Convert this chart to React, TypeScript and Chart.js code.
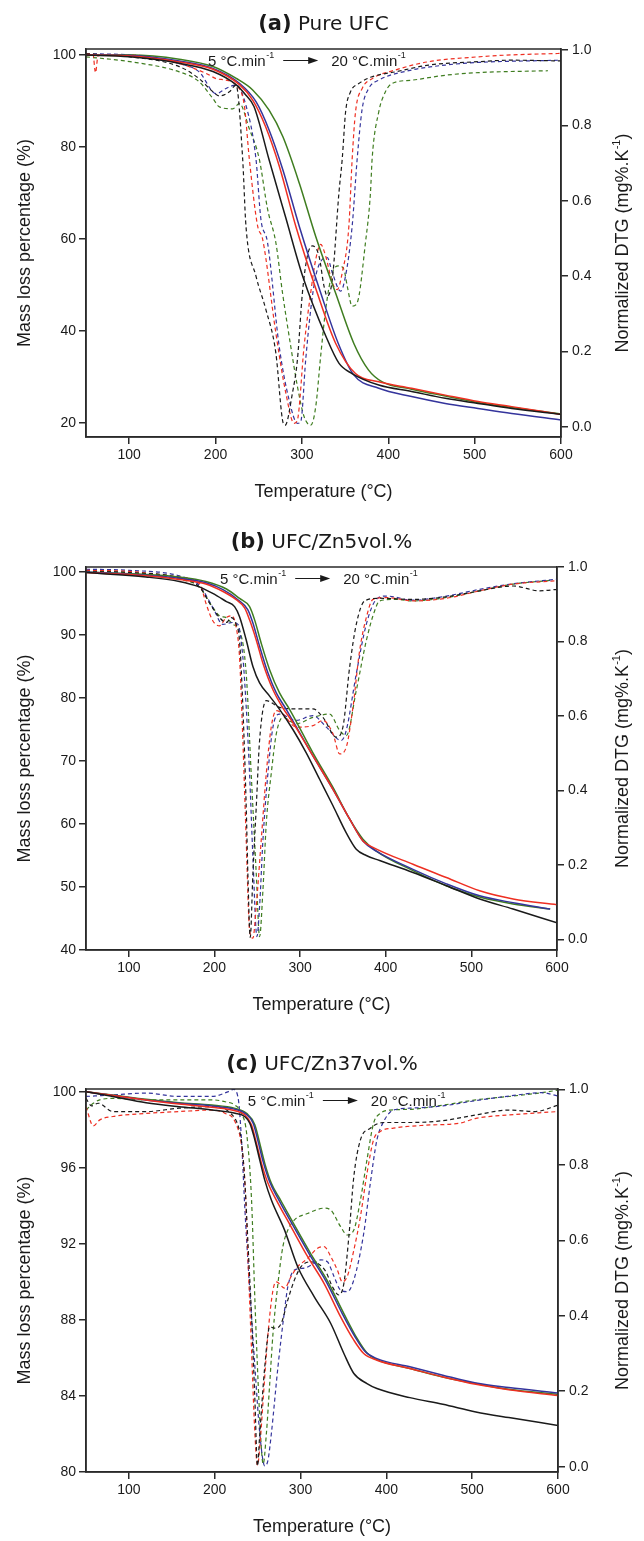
import React, { useEffect, useRef } from 'react';
import { Chart, registerables } from 'chart.js';
Chart.register(...registerables);

type Pt = [number, number];

// ---------- axis ticks ----------
const TEMP_TICKS = [100, 200, 300, 400, 500, 600];
const DTG_TICKS = [0, 0.2, 0.4, 0.6, 0.8, 1.0];
const A_MASS_TICKS = [20, 40, 60, 80, 100];
const B_MASS_TICKS = [40, 50, 60, 70, 80, 90, 100];
const C_MASS_TICKS = [80, 84, 88, 92, 96, 100];

// series order: black, red, blue, green
const SERIES_COLORS = ['#1a1a1a', '#ee2f22', '#34349c', '#3f7d20'];

// ---------- (a) Pure UFC : TG (mass %) ----------
const A_TG_BLACK: Pt[] = [[50,100],[100,99.6],[158,98.2],[197,96.4],[224,93.5],[235,91.3],[244.5,88.8],[262,77.2],[281,64.8],[301,51.8],[328,38.7],[343,32.9],[358,30.7],[389,28.2],[427,26.8],[466,25.3],[504,24.2],[543,23.1],[600,21.8]];
const A_TG_RED: Pt[] = [[50,100],[101,99.8],[158,98.5],[197,96.9],[228,93.5],[243,90.2],[258,84.4],[274,75.7],[293,62.7],[318,48.1],[339,37.3],[362,30.7],[389,28.9],[427,27.5],[466,26.0],[504,24.6],[543,23.5],[600,21.8]];
const A_TG_BLUE: Pt[] = [[50,100],[101,99.9],[158,98.7],[197,97.1],[228,93.8],[247,89.8],[262,83.7],[278,75.0],[297,62.7],[322,48.1],[342,37.3],[360,30.4],[389,27.5],[427,25.7],[466,24.2],[504,23.1],[543,22.0],[600,20.6]];
const A_TG_GREEN: Pt[] = [[50,100],[101,100],[158,99.1],[197,97.5],[224,94.9],[243,92.4],[262,88.0],[278,82.2],[297,72.1],[316,60.5],[339,48.2],[360,37.3],[377,31.5],[393,28.9],[427,27.3],[466,25.8],[504,24.4],[543,23.3],[600,21.9]];
// (a) DTG (normalized)
const A_DTG_BLACK: Pt[] = [[50,0.99],[101,0.982],[158,0.956],[181,0.924],[197,0.889],[204.5,0.878],[216,0.889],[223.7,0.907],[231.4,0.711],[235.2,0.533],[246.8,0.4],[258.3,0.311],[269.8,0.196],[277.5,0.018],[280.6,0.004],[289,0.089],[294.8,0.178],[300.6,0.356],[306.3,0.453],[312.1,0.48],[319.8,0.453],[325.6,0.373],[329.4,0.347],[335.2,0.391],[342.9,0.622],[346.7,0.711],[350.6,0.836],[356.3,0.889],[365.9,0.911],[381.3,0.929],[408.2,0.942],[446.6,0.96],[504.3,0.969],[542.7,0.973],[600,0.971]];
const A_DTG_RED: Pt[] = [[50,0.99],[58,0.99],[61,0.94],[64,0.985],[101,0.987],[158,0.964],[189,0.938],[200.7,0.924],[212.2,0.92],[223.7,0.907],[233.3,0.853],[239.1,0.711],[248.7,0.533],[254.5,0.498],[269.8,0.249],[281.4,0.089],[291,0.009],[294.8,0.018],[302.5,0.213],[310.2,0.356],[316,0.444],[321.7,0.484],[327.5,0.453],[335.2,0.382],[340.9,0.364],[346.7,0.409],[354.4,0.533],[358.2,0.711],[362.1,0.836],[369.8,0.898],[381.3,0.924],[408.2,0.947],[446.6,0.969],[504.3,0.982],[542.7,0.987],[600,0.991]];
const A_DTG_BLUE: Pt[] = [[50,0.99],[101,0.987],[158,0.964],[181,0.942],[200.7,0.884],[212.2,0.898],[223.7,0.907],[235.2,0.853],[246.8,0.711],[252.5,0.551],[260.2,0.489],[273.7,0.213],[285.2,0.071],[294.8,0.009],[298.6,0.013],[304.4,0.178],[310.2,0.311],[316,0.4],[323.6,0.444],[329.4,0.449],[335.2,0.409],[344.8,0.36],[350.5,0.4],[358.2,0.533],[364,0.711],[369.8,0.844],[377.4,0.898],[389,0.92],[427.4,0.947],[465.8,0.96],[504.3,0.967],[600,0.973]];
const A_DTG_GREEN: Pt[] = [[50,0.982],[101,0.969],[158,0.942],[181,0.916],[197,0.871],[204.5,0.849],[220,0.844],[227.6,0.858],[239.1,0.791],[250.6,0.711],[260.2,0.578],[269.8,0.489],[277.5,0.356],[287.1,0.213],[294.8,0.107],[302.5,0.027],[310.2,0.004],[316,0.053],[321.7,0.187],[327.5,0.311],[335.2,0.409],[342.9,0.427],[348.6,0.418],[352.5,0.373],[358.2,0.32],[364,0.329],[373.6,0.489],[379.4,0.622],[381.3,0.711],[389,0.836],[396.7,0.889],[404.3,0.911],[427.4,0.92],[465.8,0.933],[504.3,0.94],[585,0.945]];

// ---------- (b) UFC/Zn5vol.% ----------
const B_TG_BLACK: Pt[] = [[50,99.9],[120,99.2],[159,98.5],[183,97.6],[198,96.6],[214,95.3],[223.5,94.5],[229.3,92.9],[237.1,89.2],[244.9,85.0],[252.7,82.4],[264.4,80.3],[276,78.2],[291.6,75.0],[307.2,71.3],[322.8,67.1],[338.4,62.9],[353.9,58.6],[365.6,56.0],[377.3,55.0],[392.9,54.2],[431.8,52.3],[470.8,50.2],[509.7,48.1],[548.7,46.5],[600,44.3]];
const B_TG_RED: Pt[] = [[50,99.9],[120,99.4],[159,98.8],[190,98.1],[210,96.9],[225.4,95.6],[235.2,94.3],[241,92.4],[248.8,89.2],[256.6,85.5],[268.3,81.3],[280,78.4],[291.6,76.1],[315,70.8],[338.4,65.5],[357.8,60.8],[373.4,57.3],[385.1,56.3],[431.8,53.6],[470.8,51.5],[509.7,49.4],[548.7,48.1],[600,47.2]];
const B_TG_BLUE: Pt[] = [[50,100],[120,99.5],[159,99.0],[190,98.3],[210,97.2],[227.4,95.6],[239,94.0],[244.9,91.9],[252.7,88.2],[262.4,84.0],[272.2,80.8],[283.8,78.2],[315,70.8],[338.4,65.5],[357.8,60.8],[373.4,57.3],[389,55.7],[431.8,52.8],[470.8,50.5],[509.7,48.6],[548.7,47.5],[592,46.5]];
const B_TG_GREEN: Pt[] = [[50,100],[120,99.6],[159,99.2],[190,98.5],[214,97.3],[229.3,95.8],[241,94.5],[246.9,92.4],[254.6,88.7],[264.4,84.5],[276,80.8],[287.7,78.2],[315,71.3],[338.4,65.8],[357.8,60.8],[373.4,57.6],[389,55.7],[431.8,52.6],[470.8,50.2],[509.7,48.4],[548.7,47.3],[592,46.5]];
const B_DTG_BLACK: Pt[] = [[50,0.988],[101,0.985],[159,0.971],[183,0.945],[194,0.904],[206,0.864],[214,0.851],[219.6,0.864],[225.4,0.846],[229.3,0.802],[233.2,0.623],[237.1,0.355],[239,0.177],[241.8,0.005],[244.9,0.177],[248.8,0.355],[252.7,0.534],[260.5,0.641],[276,0.623],[295.5,0.619],[315,0.619],[326.7,0.596],[342.3,0.543],[350,0.57],[357.8,0.73],[365.6,0.846],[375.4,0.909],[392.9,0.916],[431.8,0.913],[470.8,0.92],[509.7,0.936],[548.7,0.949],[579.8,0.936],[600,0.94]];
const B_DTG_RED: Pt[] = [[50,0.991],[101,0.988],[159,0.973],[183,0.954],[190.4,0.9],[198.2,0.855],[205.9,0.842],[213.7,0.864],[219.6,0.869],[225.4,0.838],[229.3,0.757],[233.2,0.534],[237.1,0.266],[241,0.025],[244.9,0.003],[248.8,0.088],[254.6,0.266],[260.5,0.445],[266.3,0.57],[272.2,0.614],[279.9,0.605],[295.5,0.57],[315,0.574],[326.7,0.588],[338.4,0.552],[346.2,0.498],[353.9,0.516],[361.7,0.623],[369.5,0.775],[377.3,0.864],[385.1,0.913],[400.7,0.918],[431.8,0.909],[470.8,0.916],[509.7,0.936],[548.7,0.954],[600,0.963]];
const B_DTG_BLUE: Pt[] = [[50,0.994],[101,0.991],[159,0.976],[183,0.949],[198.2,0.891],[209.8,0.846],[221.5,0.851],[227.4,0.846],[233.2,0.757],[237.1,0.623],[241,0.445],[244.9,0.221],[249.6,0.007],[252.7,0.088],[256.6,0.266],[262.4,0.445],[268.3,0.57],[276,0.605],[295.5,0.588],[315,0.601],[330.6,0.57],[348.1,0.534],[353.9,0.561],[365.6,0.713],[377.3,0.846],[389,0.913],[400.7,0.922],[431.8,0.911],[470.8,0.922],[509.7,0.94],[548.7,0.955],[600,0.967]];
const B_DTG_GREEN: Pt[] = [[50,0.989],[101,0.985],[159,0.967],[183,0.945],[198.2,0.891],[205.9,0.869],[213.7,0.864],[221.5,0.846],[229.3,0.829],[237.1,0.713],[242.9,0.445],[248.8,0.177],[252.7,0.007],[256.6,0.132],[260.5,0.311],[266.3,0.445],[272.2,0.552],[279.9,0.596],[295.5,0.579],[315,0.596],[334.5,0.605],[346.2,0.561],[353.9,0.547],[365.6,0.668],[377.3,0.802],[387,0.882],[392.9,0.909],[412.4,0.913],[431.8,0.909],[470.8,0.918],[509.7,0.936],[548.7,0.954],[592,0.964]];

// ---------- (c) UFC/Zn37vol.% ----------
const C_TG_BLACK: Pt[] = [[50,100],[81.5,99.74],[120,99.42],[158.4,99.21],[196.8,99.04],[223.7,98.86],[235.2,98.68],[241,98.33],[246.8,97.46],[252.5,96.4],[258.3,95.35],[266,94.3],[281.4,92.72],[296.7,90.79],[316,89.21],[335.2,87.81],[350.5,86.23],[362.1,85.18],[377.4,84.65],[389,84.39],[427.4,83.91],[465.8,83.56],[504.3,83.16],[542.7,82.86],[600,82.45]];
const C_TG_RED: Pt[] = [[50,100],[120,99.56],[158.4,99.35],[196.8,99.18],[223.7,99.0],[235.2,98.77],[242.9,98.25],[248.7,97.28],[254.5,96.23],[262.1,95.18],[271.8,94.3],[289,92.89],[308.3,91.32],[327.5,89.91],[346.7,88.16],[362.1,86.93],[373.6,86.23],[389,85.88],[427.4,85.44],[465.8,85.0],[504.3,84.61],[542.7,84.33],[600,84.02]];
const C_TG_BLUE: Pt[] = [[50,100],[120,99.56],[158.4,99.39],[196.8,99.25],[223.7,99.07],[235.2,98.86],[244.9,98.33],[250.6,97.37],[256.4,96.32],[264,95.26],[273.7,94.39],[291,92.98],[310.2,91.46],[329.4,90.05],[348.6,88.33],[364,87.07],[375.5,86.32],[389,85.96],[427.4,85.53],[465.8,85.09],[504.3,84.68],[542.7,84.44],[600,84.15]];
const C_TG_GREEN: Pt[] = [[50,100],[120,99.6],[158.4,99.42],[196.8,99.3],[223.7,99.12],[237.1,98.86],[246.8,98.25],[252.5,97.28],[258.3,96.23],[266,95.18],[275.6,94.39],[292.9,92.98],[312.1,91.46],[331.3,90.05],[350.5,88.33],[365.9,87.02],[377.4,86.26],[389,85.91],[427.4,85.44],[465.8,85.0],[504.3,84.65],[542.7,84.35],[600,84.08]];
const C_DTG_BLACK: Pt[] = [[50,0.976],[56.5,0.956],[64.2,0.963],[81.5,0.941],[120,0.941],[158.4,0.95],[196.8,0.954],[216,0.941],[227.6,0.901],[231.4,0.857],[235.2,0.751],[239.1,0.574],[242.9,0.398],[246.8,0.177],[249.8,0.002],[252.5,0.088],[258.3,0.265],[264.1,0.371],[269.8,0.367],[277.5,0.38],[285.2,0.442],[292.9,0.495],[300.6,0.53],[312.1,0.543],[319.8,0.539],[329.4,0.517],[337.1,0.477],[344.8,0.455],[350.5,0.486],[356.3,0.61],[362.1,0.769],[369.8,0.866],[381.3,0.897],[396.7,0.912],[427.4,0.912],[465.8,0.917],[504.3,0.932],[542.7,0.945],[573.4,0.941],[600,0.958]];
const C_DTG_RED: Pt[] = [[50,0.954],[58.5,0.903],[66.1,0.919],[81.5,0.928],[120,0.936],[158.4,0.941],[196.8,0.945],[212.2,0.936],[223.7,0.914],[231.4,0.848],[235.2,0.751],[239.1,0.53],[242.9,0.309],[246.8,0.088],[249.8,0.004],[253.7,0.088],[256.4,0.177],[262.1,0.353],[267.9,0.468],[271.8,0.49],[281.4,0.473],[289,0.504],[296.7,0.53],[308.3,0.552],[319.8,0.579],[327.5,0.583],[335.2,0.557],[342.9,0.521],[348.6,0.49],[354.4,0.504],[362.1,0.574],[369.8,0.663],[377.4,0.777],[385.1,0.866],[392.8,0.888],[408.2,0.897],[446.6,0.905],[485,0.91],[504.3,0.923],[542.7,0.932],[600,0.941]];
const C_DTG_BLUE: Pt[] = [[50,0.981],[81.5,0.985],[120,0.99],[158.4,0.981],[196.8,0.981],[216,0.994],[221.8,1.0],[227.6,0.972],[231.4,0.857],[235.2,0.68],[239.1,0.53],[242.9,0.398],[246.8,0.265],[252.5,0.088],[258.3,0.002],[262.1,0.018],[266,0.088],[273.7,0.265],[281.4,0.415],[285.2,0.477],[292.9,0.521],[304.4,0.526],[316,0.539],[323.6,0.548],[331.3,0.543],[339,0.504],[346.7,0.468],[354.4,0.464],[362.1,0.495],[373.6,0.618],[381.3,0.751],[389,0.866],[396.7,0.914],[408.2,0.945],[427.4,0.95],[465.8,0.956],[504.3,0.97],[542.7,0.982],[581.1,0.991],[600,0.982]];
const C_DTG_GREEN: Pt[] = [[50,0.945],[58.5,0.963],[66.1,0.972],[81.5,0.976],[120,0.972],[158.4,0.972],[196.8,0.972],[212.2,0.967],[223.7,0.958],[231.4,0.936],[237.2,0.883],[242.9,0.707],[246.8,0.442],[250.6,0.221],[254.5,0.044],[256.4,0.007],[260.2,0.088],[264.1,0.221],[267.9,0.353],[273.7,0.486],[279.4,0.583],[285.2,0.627],[292.9,0.654],[308.3,0.671],[327.5,0.685],[335.2,0.68],[346.7,0.636],[354.4,0.614],[362.1,0.627],[369.8,0.707],[377.4,0.813],[385.1,0.91],[392.8,0.936],[404.3,0.945],[427.4,0.947],[465.8,0.958],[504.3,0.972],[542.7,0.981],[581.1,0.991],[600,0.998]];

const FONT = '"Liberation Sans", Arial, Helvetica, sans-serif';
const TITLE_FONT = '"DejaVu Sans", Verdana, sans-serif';
const AXIS = '#2a2a2a';
const TEXT = '#1a1a1a';

interface PanelCfg {
  label: string; name: string;
  top: number; height: number;
  plotTop: number; plotBottom: number; plotLeft: number; plotRight: number;
  massMin: number; massMax: number; massTicks: number[];
  dtgMin: number; dtgMax: number;
  tg: Pt[][]; dtg: Pt[][];
  noteT: number;
}

const PANELS: PanelCfg[] = [
  { label: '(a)', name: 'Pure UFC', top: 0, height: 520, plotTop: 49, plotBottom: 437, plotLeft: 86, plotRight: 561,
    massMin: 16.89, massMax: 101.31, massTicks: A_MASS_TICKS, dtgMin: -0.0273, dtgMax: 1.0027,
    tg: [A_TG_BLACK, A_TG_RED, A_TG_BLUE, A_TG_GREEN], dtg: [A_DTG_BLACK, A_DTG_RED, A_DTG_BLUE, A_DTG_GREEN], noteT: 191.3 },
  { label: '(b)', name: 'UFC/Zn5vol.%', top: 520, height: 520, plotTop: 47, plotBottom: 430, plotLeft: 86, plotRight: 557,
    massMin: 40, massMax: 100.79, massTicks: B_MASS_TICKS, dtgMin: -0.0287, dtgMax: 1.0,
    tg: [B_TG_BLACK, B_TG_RED, B_TG_BLUE, B_TG_GREEN], dtg: [B_DTG_BLACK, B_DTG_RED, B_DTG_BLUE, B_DTG_GREEN], noteT: 206.5 },
  { label: '(c)', name: 'UFC/Zn37vol.%', top: 1040, height: 501, plotTop: 49, plotBottom: 432, plotLeft: 86, plotRight: 558,
    massMin: 80, massMax: 100.14, massTicks: C_MASS_TICKS, dtgMin: -0.014, dtgMax: 1.0008,
    tg: [C_TG_BLACK, C_TG_RED, C_TG_BLUE, C_TG_GREEN], dtg: [C_DTG_BLACK, C_DTG_RED, C_DTG_BLUE, C_DTG_GREEN], noteT: 238.4 },
];

const W = 644;

function decoPlugin(cfg: PanelCfg) {
  return {
    id: 'deco',
    beforeDraw(chart: any) {
      const c = chart.ctx;
      c.save();
      c.fillStyle = '#ffffff';
      c.fillRect(0, 0, chart.width, chart.height);
      c.restore();
    },
    afterDraw(chart: any) {
      const ctx = chart.ctx;
      const a = chart.chartArea;
      ctx.save();
      ctx.strokeStyle = AXIS;
      ctx.lineWidth = 1.5;
      ctx.strokeRect(a.left, a.top, a.right - a.left, a.bottom - a.top);

      ctx.fillStyle = TEXT;
      // panel title
      const bold = 'bold 21px ' + TITLE_FONT;
      const reg = '20px ' + TITLE_FONT;
      ctx.font = bold;
      const w1 = ctx.measureText(cfg.label).width;
      ctx.font = reg;
      const w2 = ctx.measureText(' ' + cfg.name).width;
      const cx = (a.left + a.right) / 2;
      const tx = cx - (w1 + w2) / 2;
      const ty = a.top - 24;
      ctx.textBaseline = 'middle';
      ctx.textAlign = 'left';
      ctx.font = bold;
      ctx.fillText(cfg.label, tx, ty);
      ctx.font = reg;
      ctx.fillText(' ' + cfg.name, tx + w1, ty);

      // x title
      ctx.font = '18px ' + FONT;
      ctx.textAlign = 'center';
      ctx.fillText('Temperature (°C)', cx, a.bottom + 55);

      // left title
      const cy = (a.top + a.bottom) / 2;
      ctx.save();
      ctx.translate(25, cy);
      ctx.rotate(-Math.PI / 2);
      ctx.fillText('Mass loss percentage (%)', 0, 0);
      ctx.restore();

      // right title with superscript
      ctx.save();
      ctx.translate(623, cy);
      ctx.rotate(-Math.PI / 2);
      ctx.textAlign = 'left';
      const p1 = 'Normalized DTG (mg%.K', p2 = '-1', p3 = ')';
      ctx.font = '18px ' + FONT;
      const m1 = ctx.measureText(p1).width;
      const m3 = ctx.measureText(p3).width;
      ctx.font = '11px ' + FONT;
      const m2 = ctx.measureText(p2).width;
      let sx = -(m1 + m2 + m3) / 2;
      ctx.font = '18px ' + FONT;
      ctx.fillText(p1, sx, 0);
      sx += m1;
      ctx.font = '11px ' + FONT;
      ctx.fillText(p2, sx, -6);
      sx += m2;
      ctx.font = '18px ' + FONT;
      ctx.fillText(p3, sx, 0);
      ctx.restore();

      // heating-rate annotation
      const xs = chart.scales.x;
      let x = xs.getPixelForValue(cfg.noteT);
      const y = a.top + 17;
      ctx.textBaseline = 'alphabetic';
      ctx.textAlign = 'left';
      const big = '15px ' + FONT, sup = '9px ' + FONT;
      ctx.font = big;
      ctx.fillText('5 °C.min', x, y);
      x += ctx.measureText('5 °C.min').width + 0.5;
      ctx.font = sup;
      ctx.fillText('-1', x, y - 8);
      x += ctx.measureText('-1').width;
      const ax0 = x + 9, ax1 = x + 44;
      ctx.strokeStyle = TEXT;
      ctx.lineWidth = 1;
      ctx.beginPath();
      ctx.moveTo(ax0, y - 5.5);
      ctx.lineTo(ax1 - 6, y - 5.5);
      ctx.stroke();
      ctx.beginPath();
      ctx.moveTo(ax1, y - 5.5);
      ctx.lineTo(ax1 - 10, y - 9);
      ctx.lineTo(ax1 - 10, y - 2);
      ctx.closePath();
      ctx.fill();
      x = ax1 + 13;
      ctx.font = big;
      ctx.fillText('20 °C.min', x, y);
      x += ctx.measureText('20 °C.min').width + 0.5;
      ctx.font = sup;
      ctx.fillText('-1', x, y - 8);
      ctx.restore();
    },
  };
}

function axisCommon(ticks: number[], fmt: (v: number) => string) {
  return {
    grid: { display: true, drawOnChartArea: false, drawTicks: true, tickLength: 7, color: AXIS, lineWidth: 1.5 },
    border: { display: true, color: AXIS, width: 1.5 },
    afterBuildTicks: (s: any) => { s.ticks = ticks.map((v) => ({ value: v })); },
    ticks: { font: { family: FONT, size: 14 }, color: TEXT, autoSkip: false, maxRotation: 0, minRotation: 0,
      callback: (v: any) => fmt(Number(v)) },
  };
}

function Panel({ cfg }: { cfg: PanelCfg }) {
  const ref = useRef<HTMLCanvasElement | null>(null);
  useEffect(() => {
    const canvas = ref.current;
    if (!canvas) return;
    const datasets: any[] = [];
    cfg.tg.forEach((pts, i) => {
      datasets.push({
        data: pts.map(([x, y]) => ({ x, y })), yAxisID: 'yL', borderColor: SERIES_COLORS[i],
        borderWidth: 1.5, pointRadius: 0, cubicInterpolationMode: 'monotone', fill: false,
      });
    });
    cfg.dtg.forEach((pts, i) => {
      datasets.push({
        data: pts.map(([x, y]) => ({ x, y })), yAxisID: 'yR', borderColor: SERIES_COLORS[i],
        borderWidth: 1.2, borderDash: [4, 3], pointRadius: 0, cubicInterpolationMode: 'monotone', fill: false,
      });
    });
    const xCommon = axisCommon(TEMP_TICKS, (v) => String(v));
    const lCommon = axisCommon(cfg.massTicks, (v) => String(v));
    const rCommon = axisCommon(DTG_TICKS, (v) => v.toFixed(1));
    const chart = new Chart(canvas, {
      type: 'line',
      data: { datasets },
      options: {
        responsive: false,
        animation: false,
        devicePixelRatio: 1,
        events: [],
        layout: { padding: { top: cfg.plotTop, left: 0, right: 0, bottom: 0 } },
        plugins: { legend: { display: false }, tooltip: { enabled: false }, title: { display: false } },
        scales: {
          x: {
            type: 'linear', position: 'bottom', min: 50, max: 600, ...xCommon,
            ticks: { ...xCommon.ticks, padding: 3 },
            afterFit: (s: any) => { s.height = cfg.height - cfg.plotBottom; },
          },
          yL: {
            type: 'linear', position: 'left', min: cfg.massMin, max: cfg.massMax, ...lCommon,
            ticks: { ...lCommon.ticks, padding: 3 },
            afterFit: (s: any) => { s.width = cfg.plotLeft; },
          },
          yR: {
            type: 'linear', position: 'right', min: cfg.dtgMin, max: cfg.dtgMax, ...rCommon,
            ticks: { ...rCommon.ticks, padding: 4 },
            afterFit: (s: any) => { s.width = W - cfg.plotRight; },
          },
        },
      } as any,
      plugins: [decoPlugin(cfg) as any],
    });
    return () => chart.destroy();
  }, [cfg]);
  return (
    <canvas
      ref={ref}
      width={W}
      height={cfg.height}
      style={{ position: 'absolute', left: 0, top: cfg.top, width: W, height: cfg.height, display: 'block' }}
    />
  );
}

export default function App() {
  return (
    <div style={{ position: 'absolute', left: 0, top: 0, width: W, height: 1541, background: '#fff', overflow: 'hidden' }}>
      {PANELS.map((p) => (
        <Panel key={p.label} cfg={p} />
      ))}
    </div>
  );
}
